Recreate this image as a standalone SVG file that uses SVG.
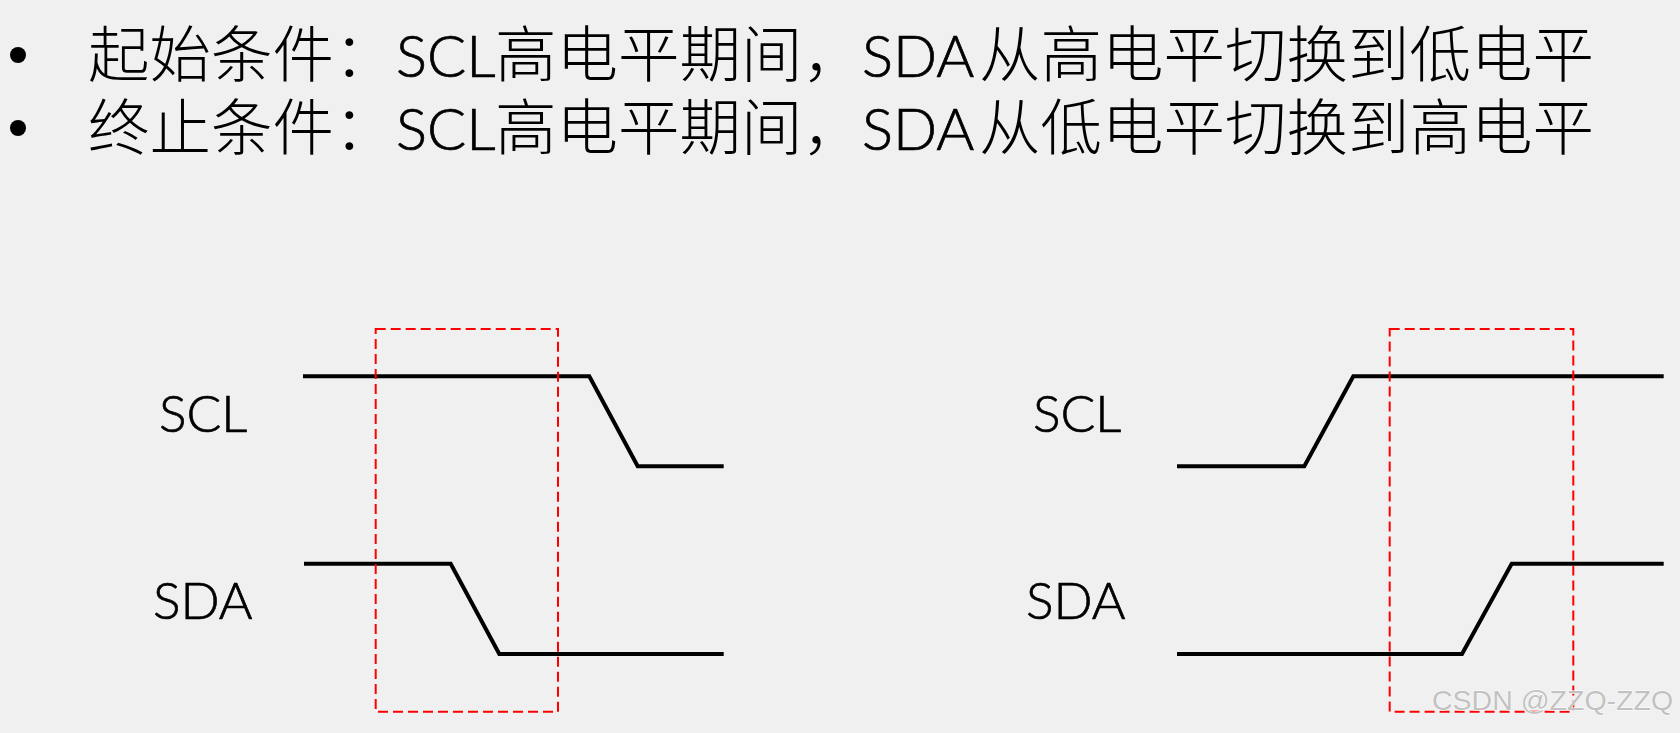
<svg xmlns="http://www.w3.org/2000/svg" width="1680" height="733" viewBox="0 0 1680 733">
<style>
.hdr{font-family:"Noto Sans CJK SC",sans-serif;font-size:61.5px;font-weight:300;fill:#000}
.lat{font-family:Lato,"Noto Sans",sans-serif;font-size:58px;font-weight:300;fill:#000;stroke:#000;stroke-width:0.7}
.lbl{font-family:Lato,"Noto Sans",sans-serif;font-size:51.5px;font-weight:300;fill:#000;stroke:#000;stroke-width:0.7}
.sig{fill:none;stroke:#000;stroke-width:4}
.win{fill:none;stroke:#ff0000;stroke-width:2;stroke-dasharray:10 5}
.wm{font-family:"Liberation Sans",Arial,sans-serif;font-size:28.5px;fill:#c2c2c2;stroke:#ffffff;stroke-width:1;paint-order:stroke}
</style>
<rect width="1680" height="733" fill="#f0f0f0"/>
<g id="header">
  <circle cx="18" cy="55" r="8" fill="#000"/>
  <circle cx="18" cy="128" r="8" fill="#000"/>
  <text class="hdr" x="88" y="77">起始条件：</text>
  <text class="lat" x="396" y="77">SCL</text>
  <text class="hdr" x="495" y="77">高电平期间，</text>
  <text class="lat" x="862" y="77">SDA</text>
  <text class="hdr" x="979" y="77">从高电平切换到低电平</text>
  <text class="hdr" x="88" y="150">终止条件：</text>
  <text class="lat" x="396" y="150">SCL</text>
  <text class="hdr" x="495" y="150">高电平期间，</text>
  <text class="lat" x="862" y="150">SDA</text>
  <text class="hdr" x="979" y="150">从低电平切换到高电平</text>
</g>
<g id="start-condition">
  <g id="start-scl-label"><text class="lbl" x="159" y="432">SCL</text></g>
  <g id="start-sda-label"><text class="lbl" x="153" y="619">SDA</text></g>
  <g id="start-scl"><polyline class="sig" points="303,376.3 589.3,376.3 637.7,466.3 723.7,466.3"/></g>
  <g id="start-sda"><polyline class="sig" points="304,563.7 450.7,563.7 499.3,654 723.7,654"/></g>
  <g id="start-window"><rect class="win" x="375.7" y="329" width="182.3" height="382.7"/></g>
</g>
<g id="stop-condition">
  <g id="stop-scl-label"><text class="lbl" x="1033" y="432">SCL</text></g>
  <g id="stop-sda-label"><text class="lbl" x="1026" y="619">SDA</text></g>
  <g id="stop-scl"><polyline class="sig" points="1177,466.3 1304.3,466.3 1353.3,376.3 1663.7,376.3"/></g>
  <g id="stop-sda"><polyline class="sig" points="1177,654 1462,654 1511.7,563.7 1663.7,563.7"/></g>
  <g id="stop-window"><rect class="win" x="1389.7" y="329" width="183.6" height="382.7"/></g>
</g>
<g id="connectors"></g>
<text class="wm" x="1432" y="710">CSDN @ZZQ-ZZQ</text>
</svg>
